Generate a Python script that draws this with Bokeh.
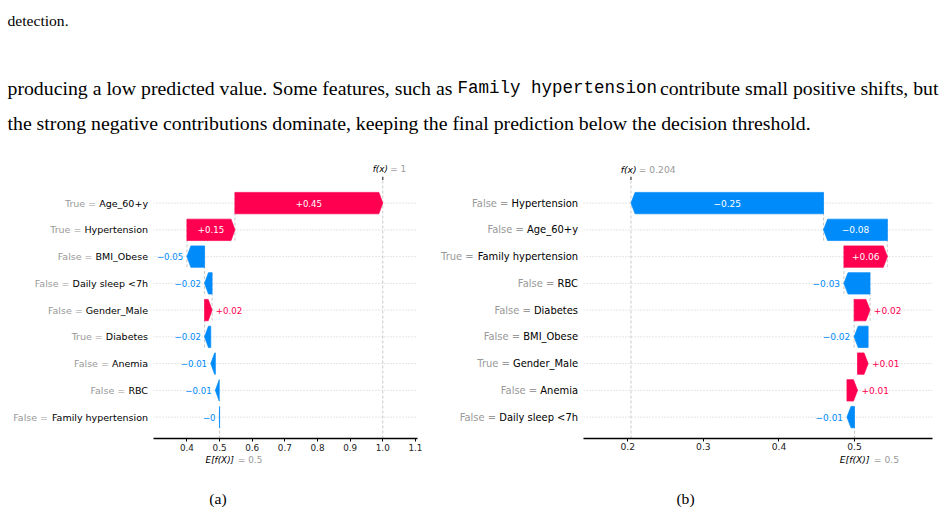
import re

from bokeh.core.properties import value
from bokeh.embed import file_html
from bokeh.layouts import column, row
from bokeh.models import FixedTicker, Range1d
from bokeh.plotting import figure
from bokeh.resources import INLINE

# ---------------- data: panel (a) ----------------
feature_values_a = ["True", "True", "False", "False", "False", "True", "False", "False", "False"]
feature_names_a = ["Age_60+y", "Hypertension", "BMI_Obese", "Daily sleep <7h", "Gender_Male",
                   "Diabetes", "Anemia", "RBC", "Family hypertension"]
shap_a = [0.453, 0.147, -0.054, -0.023, 0.023, -0.019, -0.014, -0.012, -0.001]
base_a = 0.5
ticks_a = [0.4, 0.5, 0.6, 0.7, 0.8, 0.9, 1.0, 1.1]
tick_labels_a = ["0.4", "0.5", "0.6", "0.7", "0.8", "0.9", "1.0", "1.1"]

# ---------------- data: panel (b) ----------------
feature_values_b = ["False", "False", "True", "False", "False", "False", "True", "False", "False"]
feature_names_b = ["Hypertension", "Age_60+y", "Family hypertension", "RBC", "Diabetes",
                   "BMI_Obese", "Gender_Male", "Anemia", "Daily sleep <7h"]
shap_b = [-0.2548, -0.0845, 0.0575, -0.0345, 0.021, -0.0185, 0.014, 0.014, -0.010]
base_b = 0.5
ticks_b = [0.2, 0.3, 0.4, 0.5]
tick_labels_b = ["0.2", "0.3", "0.4", "0.5"]

RED = "#ff0051"
BLUE = "#008bfb"
GRAY_TXT = "#999999"
SANS = value("DejaVu Sans")

# DejaVu Sans advance widths (units per em = 2048), used to place two-colour labels
_DV = {" ": 651, "+": 1716, "<": 1716, "=": 1716, "_": 1024, ".": 651, "\u2212": 1716,
       "A": 1401, "B": 1405, "C": 1430, "D": 1577, "E": 1294, "F": 1178, "G": 1579, "H": 1540,
       "I": 604, "M": 1767, "O": 1612, "R": 1423, "T": 1251,
       "a": 1255, "b": 1300, "c": 1126, "d": 1300, "e": 1260, "f": 721, "g": 1300, "h": 1298,
       "i": 569, "k": 1186, "l": 569, "m": 1995, "n": 1298, "o": 1253, "p": 1300, "r": 842,
       "s": 1067, "t": 803, "u": 1298, "v": 1212, "x": 1212, "y": 1212}
for _d in "0123456789":
    _DV[_d] = 1303


def text_width(s, px):
    return sum(_DV.get(c, 1250) for c in s) / 2048.0 * px


def fmt(v, f):
    s = f % v
    s = re.sub(r"\.?0+$", "", s)
    if s.startswith("-"):
        s = "\u2212" + s[1:]
    return s


def blank(p):
    p.outline_line_color = None
    p.grid.visible = False
    p.background_fill_color = "white"
    p.border_fill_color = "white"
    return p


# vertical layout of one panel (pixels)
TOP_STRIP = 26      # f(x) annotation strip
FRAME_H = 262       # bar area
AXIS_H = 16         # bottom axis band
BOT_STRIP = 24      # E[f(X)] annotation strip
Y0 = -0.8
PPU_Y = 26.75
Y1 = Y0 + FRAME_H / PPU_Y


def waterfall(vals, names, shap, base, ticks, tick_labels, x_start, x_end,
              width, label_w, border_right, k, fx_offsets, e_offsets, standoff):
    n = len(shap)
    plot_w = width - label_w
    frame_w = plot_w - border_right
    ppu_x = frame_w / (x_end - x_start)
    x_range = Range1d(x_start, x_end)
    y_range = Range1d(Y0, Y1)

    fs_name = 9.5 * k
    fs_val = 8.6 * k
    fs_tick = 8.8 * k
    fs_fx = 8.8 * k

    ys = [n - 1 - i for i in range(n)]
    starts = [base + sum(shap[i + 1:]) for i in range(n)]
    ends = [s + v for s, v in zip(starts, shap)]
    fx = base + sum(shap)

    # ---- main bar area with the value axis ----
    p = blank(figure(width=plot_w, height=FRAME_H + AXIS_H, x_range=x_range, y_range=y_range,
                     output_backend="svg", toolbar_location=None, y_axis_location=None,
                     min_border_left=0, min_border_right=border_right, min_border_top=0,
                     min_border_bottom=AXIS_H))

    # dotted row guides
    p.segment(x0=[x_start] * n, x1=[x_end] * n, y0=ys, y1=ys,
              line_color="#cccccc", line_width=1, line_dash="1 2")

    # connector lines between consecutive bars (top rows only)
    cx, cy0, cy1 = [], [], []
    for i in range(n):
        if i + 4 < n:
            cx.append(starts[i])
            cy0.append(ys[i] - 1.4)
            cy1.append(ys[i] + 0.4)
    p.segment(x0=cx, x1=cx, y0=cy0, y1=cy1, line_color="#bbbbbb",
              line_width=0.8, line_dash="3 2")

    # expected value and model output guides
    p.segment(x0=[base], x1=[base], y0=[Y0], y1=[Y0 + (Y1 - Y0) / n],
              line_color="#bbbbbb", line_width=0.8, line_dash="3 2")
    p.segment(x0=[fx], x1=[fx], y0=[Y0], y1=[Y1 - 3.5 / PPU_Y],
              line_color="#bbbbbb", line_width=0.8, line_dash="3 2")
    # top tick marking f(x)
    p.segment(x0=[fx], x1=[fx], y0=[Y1 - 3.5 / PPU_Y], y1=[Y1],
              line_color="#333333", line_width=1.2)

    # arrow-shaped bars
    hl = 3.9 * k / ppu_x
    half = 0.4
    pxs, pys, cols = [], [], []
    for s, v, y in zip(starts, shap, ys):
        d = abs(v)
        body = max(d - hl, 1e-6)
        head = min(d, hl)
        sg = 1 if v >= 0 else -1
        xa = s + sg * body
        xt = s + sg * (body + head)
        pxs.append([s, xa, xt, xa, s])
        pys.append([y - half, y - half, y, y + half, y + half])
        cols.append(RED if v >= 0 else BLUE)
    p.patches(xs=pxs, ys=pys, fill_color=cols, line_color=cols, line_width=0.7)

    # value labels: inside the bar when they fit, otherwise beside the arrow tip
    gap = 3.7 * k
    inside = dict(x=[], y=[], t=[])
    out_pos = dict(x=[], y=[], t=[])
    out_neg = dict(x=[], y=[], t=[])
    for s, e, v, y in zip(starts, ends, shap, ys):
        lab = fmt(v, "%+0.02f")
        if text_width(lab, fs_val) <= abs(v) * ppu_x:
            inside["x"].append((s + e) / 2)
            inside["y"].append(y)
            inside["t"].append(lab)
        elif v >= 0:
            out_pos["x"].append(e)
            out_pos["y"].append(y)
            out_pos["t"].append(lab)
        else:
            out_neg["x"].append(e)
            out_neg["y"].append(y)
            out_neg["t"].append(lab)
    common = dict(text_font=SANS, text_font_size=f"{fs_val:.2f}px", text_baseline="middle")
    p.text(x=inside["x"], y=inside["y"], text=inside["t"], text_align="center",
           text_color="white", **common)
    p.text(x=out_pos["x"], y=out_pos["y"], text=out_pos["t"], text_align="left",
           x_offset=gap, text_color=RED, **common)
    p.text(x=out_neg["x"], y=out_neg["y"], text=out_neg["t"], text_align="right",
           x_offset=-gap, text_color=BLUE, **common)

    ax = p.xaxis[0]
    ax.ticker = FixedTicker(ticks=ticks, minor_ticks=[])
    ax.major_label_overrides = dict(zip(ticks, tick_labels))
    ax.axis_line_color = "#000000"
    ax.axis_line_width = 1.6
    ax.major_tick_line_color = "#000000"
    ax.major_tick_out = 3
    ax.major_tick_in = 0
    ax.minor_tick_line_color = None
    ax.major_label_text_font = "DejaVu Sans"
    ax.major_label_text_font_size = f"{fs_tick:.2f}px"
    ax.major_label_text_color = "#222222"
    ax.major_label_standoff = standoff

    # ---- f(x) strip above ----
    top = blank(figure(width=plot_w, height=TOP_STRIP, x_range=x_range,
                       y_range=Range1d(TOP_STRIP, 0), output_backend="svg",
                       toolbar_location=None, x_axis_location=None, y_axis_location=None,
                       min_border_left=0, min_border_right=border_right,
                       min_border_top=0, min_border_bottom=0))
    ty = TOP_STRIP - 7.5
    top.text(x=[fx], y=[ty], text=["f(x)"], x_offset=fx_offsets[0], text_align="left",
             text_baseline="middle", text_font=SANS, text_font_style="italic",
             text_font_size=f"{fs_fx:.2f}px", text_color="#000000")
    top.text(x=[fx], y=[ty], text=["= " + fmt(fx, "%0.03f")], x_offset=fx_offsets[1],
             text_align="left", text_baseline="middle", text_font=SANS,
             text_font_size=f"{fs_fx:.2f}px", text_color=GRAY_TXT)

    # ---- E[f(X)] strip below ----
    bot = blank(figure(width=plot_w, height=BOT_STRIP, x_range=x_range,
                       y_range=Range1d(BOT_STRIP, 0), output_backend="svg",
                       toolbar_location=None, x_axis_location=None, y_axis_location=None,
                       min_border_left=0, min_border_right=border_right,
                       min_border_top=0, min_border_bottom=0))
    by = 5.0
    bot.text(x=[base], y=[by], text=["E[f(X)]"], x_offset=e_offsets[0], text_align="left",
             text_baseline="middle", text_font=SANS, text_font_style="italic",
             text_font_size=f"{fs_fx:.2f}px", text_color="#000000")
    bot.text(x=[base], y=[by], text=["= " + fmt(base, "%0.03f")], x_offset=e_offsets[1],
             text_align="left", text_baseline="middle", text_font=SANS,
             text_font_size=f"{fs_fx:.2f}px", text_color=GRAY_TXT)

    # ---- feature labels: grey "value =" then the black feature name ----
    lab = blank(figure(width=label_w, height=TOP_STRIP + FRAME_H + AXIS_H + BOT_STRIP,
                       x_range=Range1d(0, label_w), y_range=y_range, output_backend="svg",
                       toolbar_location=None, x_axis_location=None, y_axis_location=None,
                       min_border_left=0, min_border_right=0, min_border_top=TOP_STRIP,
                       min_border_bottom=AXIS_H + BOT_STRIP))
    xr = label_w - 5.5
    prefix_x = [xr - text_width(nm, fs_name) - text_width(" ", fs_name) for nm in names]
    lab.text(x=[xr] * n, y=ys, text=names, text_align="right", text_baseline="middle",
             text_font=SANS, text_font_size=f"{fs_name:.2f}px", text_color="#000000")
    lab.text(x=prefix_x, y=ys, text=[v + " =" for v in vals], text_align="right",
             text_baseline="middle", text_font=SANS, text_font_size=f"{fs_name:.2f}px",
             text_color=GRAY_TXT)

    return row(lab, column(top, p, bot))


pa = waterfall(feature_values_a, feature_names_a, shap_a, base_a, ticks_a, tick_labels_a,
               0.2975, 1.1064, 425, 153, 8, 1.0, (-10.0, 7.5), (-14.0, 18.5), 2)
pb = waterfall(feature_values_b, feature_names_b, shap_b, base_b, ticks_b, tick_labels_b,
               0.14138, 0.60321, 520, 158, 13, 1.045, (-10.3, 7.7), (-14.7, 19.3), 1)

# ---------------- surrounding paper text ----------------
serif = value("Liberation Serif")
mono = value("Liberation Mono")

t = blank(figure(width=945, height=150, x_range=Range1d(0, 945), y_range=Range1d(150, 0),
                 output_backend="svg", toolbar_location=None, x_axis_location=None,
                 y_axis_location=None, min_border=0))
t.text(x=[7], y=[19.5], text=["detection."], text_font=serif, text_font_size="15.6px",
       text_baseline="alphabetic", text_align="left", text_color="#000000")
t.text(x=[7], y=[87.5], text=["producing a low predicted value. Some features, such as"],
       text_font=serif, text_font_size="19.8px", text_baseline="alphabetic",
       text_align="left", text_color="#000000")
t.text(x=[457], y=[87.5], text=["Family hypertension"], text_font=mono, text_font_size="17.5px",
       text_baseline="alphabetic", text_align="left", text_color="#000000")
t.text(x=[938], y=[87.5], text=["contribute small positive shifts, but"], text_font=serif,
       text_font_size="19.8px", text_baseline="alphabetic", text_align="right",
       text_color="#000000")
t.text(x=[7], y=[122.5],
       text=["the strong negative contributions dominate, keeping the final prediction below the decision threshold."],
       text_font=serif, text_font_size="19.8px", text_baseline="alphabetic", text_align="left",
       text_color="#000000")

b = blank(figure(width=945, height=29, x_range=Range1d(0, 945), y_range=Range1d(507, 478),
                 output_backend="svg", toolbar_location=None, x_axis_location=None,
                 y_axis_location=None, min_border=0))
b.text(x=[217.5, 685], y=[498, 498], text=["(a)", "(b)"], text_font=serif,
       text_font_size="15.6px", text_baseline="alphabetic", text_align="center",
       text_color="#000000")

layout = column(t, row(pa, pb), b)
open("out.html", "w").write(file_html(layout, INLINE))
